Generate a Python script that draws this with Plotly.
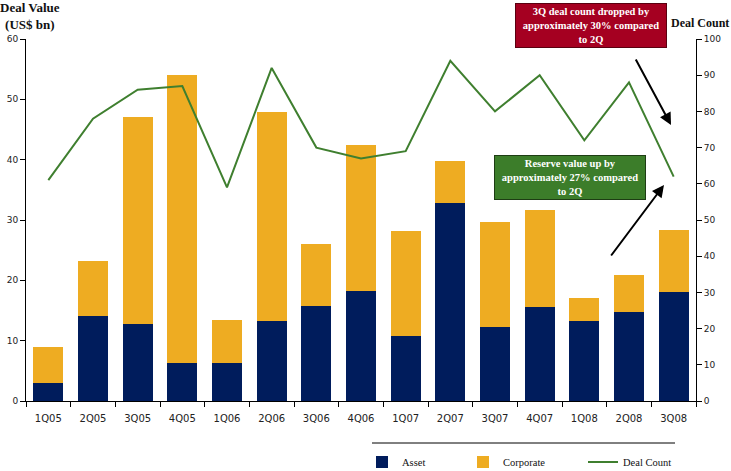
import plotly.graph_objects as go

quarters = ["1Q05", "2Q05", "3Q05", "4Q05", "1Q06", "2Q06", "3Q06", "4Q06",
            "1Q07", "2Q07", "3Q07", "4Q07", "1Q08", "2Q08", "3Q08"]
asset = [3.0, 14.1, 12.8, 6.3, 6.3, 13.3, 15.8, 18.2, 10.8, 32.8, 12.3, 15.5, 13.3, 14.8, 18.1]
corporate = [6.0, 9.1, 34.3, 47.7, 7.1, 34.6, 10.2, 24.2, 17.3, 7.0, 17.3, 16.1, 3.7, 6.1, 10.2]
deal_count = [61, 78, 86, 87, 59, 92, 70, 67, 69, 94, 80, 90, 72, 88, 62]

NAVY = "#001C5C"
GOLD = "#EEAC22"
GREEN = "#3F7F2F"
SERIF = "Liberation Serif"
SANS = "DejaVu Sans"

fig = go.Figure()
fig.add_trace(go.Bar(x=quarters, y=asset, name="Asset", marker_color=NAVY,
                     marker_line_width=0, legend="legend"))
fig.add_trace(go.Bar(x=quarters, y=corporate, name="Corporate", marker_color=GOLD,
                     marker_line_width=0, legend="legend2"))
fig.add_trace(go.Scatter(x=quarters, y=deal_count, name="Deal Count", mode="lines",
                         line=dict(color=GREEN, width=2), yaxis="y2", legend="legend3"))

W, H = 731, 471
PL, PR, PT, PB = 26, 696, 39, 401          # plot area in window pixels
L, R, T, B = PL, W - PR, PT, H - PB

def px(X):
    return (X - PL) / (PR - PL)

def py(Y):
    return (PB - Y) / (PB - PT)

def legend_at(text_x):
    return dict(orientation="h", x=px(text_x - 40), xanchor="left", y=py(462),
                yanchor="middle", font=dict(family=SERIF, size=10.5, color="#111111"),
                bgcolor="rgba(0,0,0,0)")

fig.update_layout(
    width=W, height=H,
    margin=dict(l=L, r=R, t=T, b=B, autoexpand=False),
    barmode="stack", bargap=0.33,
    plot_bgcolor="white", paper_bgcolor="white",
    font=dict(family=SANS, color="#111111"),
    xaxis=dict(type="category", showline=True, linecolor="black", linewidth=1,
               ticks="outside", tickson="boundaries", ticklen=5, tickcolor="black",
               ticklabelstandoff=8,
               tickfont=dict(family=SANS, size=10, color="#222222"),
               showgrid=False, zeroline=False, automargin=False),
    yaxis=dict(range=[0, 60], dtick=10, showline=True, linecolor="black", linewidth=1,
               ticks="outside", ticklen=5, tickcolor="black",
               tickfont=dict(family=SANS, size=9, color="#222222"),
               showgrid=False, zeroline=False, automargin=False),
    yaxis2=dict(range=[0, 100], dtick=10, overlaying="y", side="right",
                showline=True, linecolor="black", linewidth=1,
                ticks="outside", ticklen=5, tickcolor="black",
                tickfont=dict(family=SANS, size=9, color="#222222"),
                showgrid=False, zeroline=False, automargin=False),
    legend=legend_at(402),
    legend2=legend_at(503),
    legend3=legend_at(623),
    showlegend=True,
)

fig.add_shape(type="line", xref="paper", yref="paper",
              x0=px(372), x1=px(675), y0=py(443), y1=py(443),
              line=dict(color="black", width=1))

# axis titles
fig.add_annotation(xref="paper", yref="paper", x=px(30), y=py(16),
                   xanchor="center", yanchor="middle",
                   text="<b>Deal Value</b><br><b>(US$ bn)</b>", showarrow=False,
                   font=dict(family=SERIF, size=13, color="#111111"), align="center")
fig.add_annotation(xref="paper", yref="paper", x=px(700), y=py(23),
                   xanchor="center", yanchor="middle",
                   text="<b>Deal Count</b>", showarrow=False,
                   font=dict(family=SERIF, size=12, color="#111111"))

# callout boxes
fig.add_annotation(xref="paper", yref="paper", x=px(591), y=py(25.5),
                   xanchor="center", yanchor="middle",
                   text="<b>3Q deal count dropped by<br>approximately 30% compared<br>to 2Q</b>",
                   showarrow=False, bgcolor="#A50021", bordercolor="#5a0010", borderwidth=1,
                   width=148, height=41, borderpad=1,
                   font=dict(family=SERIF, size=10.5, color="white"), align="center")
fig.add_annotation(xref="paper", yref="paper", x=px(569.5), y=py(177.5),
                   xanchor="center", yanchor="middle",
                   text="<b>Reserve value up by<br>approximately 27% compared<br>to 2Q</b>",
                   showarrow=False, bgcolor="#3C7D2A", bordercolor="#1e3d14", borderwidth=1,
                   width=148, height=41, borderpad=1,
                   font=dict(family=SERIF, size=10.5, color="white"), align="center")

# arrows
fig.add_annotation(xref="paper", yref="paper", x=px(671), y=py(125), ax=635 - 671, ay=58 - 125,
                   text="", showarrow=True, arrowhead=2, arrowsize=1.2, arrowwidth=2,
                   arrowcolor="black")
fig.add_annotation(xref="paper", yref="paper", x=px(664), y=py(185), ax=610 - 664, ay=257 - 185,
                   text="", showarrow=True, arrowhead=2, arrowsize=1.2, arrowwidth=2,
                   arrowcolor="black")

# remove the default 8px page margin so the figure fills the window exactly
fig.write_html("out.html", config={"displayModeBar": False},
               post_script="document.body.style.margin='0';document.body.style.overflow='hidden';")
